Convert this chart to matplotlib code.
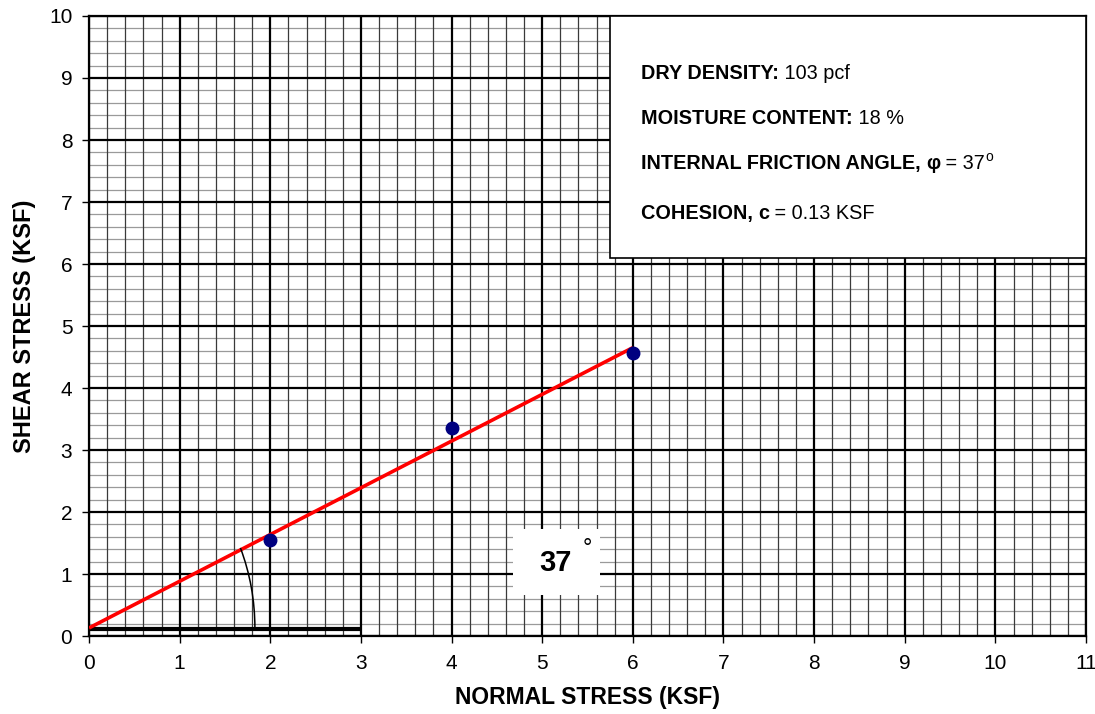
import matplotlib
matplotlib.use("Agg")
import matplotlib.pyplot as plt
from matplotlib.patches import Arc, Rectangle
from matplotlib.transforms import offset_copy
import numpy as np

plt.rcParams['font.family'] = ['Liberation Sans', 'DejaVu Sans']

# Data
normal_stress = [2, 4, 6]
shear_stress = [1.55, 3.35, 4.57]
cohesion = 0.13
friction_angle = 37
fit_x = [0, 6]
x_ticks = list(range(0, 12))
y_ticks = list(range(0, 11))

fig = plt.figure(figsize=(10.95, 7.14), dpi=100)
ax = fig.add_axes([0.0813, 0.1092, 0.9105, 0.8684])
ax.set_xlim(0, 11)
ax.set_ylim(0, 10)

# Grid
for xv in np.arange(0, 11.001, 0.2):
    if abs(xv - round(xv)) < 1e-6:
        ax.axvline(xv, color='black', lw=1.6, zorder=1)
    else:
        ax.axvline(xv, color='#3a3a3a', lw=0.9, zorder=0.9)
for yv in np.arange(0, 10.001, 0.2):
    if abs(yv - round(yv)) < 1e-6:
        ax.axhline(yv, color='black', lw=1.6, zorder=1)
    else:
        ax.axhline(yv, color='#9a9a9a', lw=0.9, zorder=0.8)

# Fit line
slope = np.tan(np.radians(friction_angle))
fy = [cohesion + slope * x for x in fit_x]
ax.plot(fit_x, fy, color='#ff0000', lw=2.6, zorder=4, solid_capstyle='butt')

# Horizontal reference
ax.plot([0, 3], [0.12, 0.12], color='black', lw=3, zorder=3, solid_capstyle='butt')

# Angle arc
arc = Arc((0, cohesion), 2 * 1.83, 2 * 3.16, theta1=0, theta2=37.7, color='black', lw=1.1, zorder=4)
ax.add_patch(arc)

# Points
ax.plot(normal_stress, shear_stress, 'o', color='#000080', ms=9, zorder=5, clip_on=False)

# Ticks
ax.set_xticks(x_ticks)
ax.set_yticks(y_ticks)
ax.tick_params(axis='both', direction='out', length=5, width=1, labelsize=15)
ax.tick_params(axis='x', pad=8)
ax.tick_params(axis='y', pad=7)
for s in ax.spines.values():
    s.set_linewidth(1.6)

ax.set_xlabel('NORMAL STRESS (KSF)', fontsize=16.5, fontweight='bold', labelpad=9)
ax.set_ylabel('SHEAR STRESS (KSF)', fontsize=17, fontweight='bold', labelpad=9)

# Info box
box = Rectangle((0.5226, 0.61), 0.9995 - 0.5226, 0.39, transform=ax.transAxes,
                facecolor='white', edgecolor='black', lw=1.2, zorder=6)
ax.add_patch(box)

fs = 14.3
renderer = fig.canvas.get_renderer()

def place_run(parts, x, y):
    # parts: list of (text, weight, size, dy_points)
    trans = ax.transAxes
    xo = 0.0
    for txt, weight, size, dy in parts:
        t = ax.text(x, y, txt, transform=offset_copy(trans, fig=fig, x=xo, y=dy, units='dots'),
                    fontsize=size, fontweight=weight, va='baseline', ha='left', zorder=7)
        bb = t.get_window_extent(renderer=renderer)
        xo += bb.width

info_lines = [
    [("DRY DENSITY:", 'bold', fs, 0), (" 103 pcf", 'normal', fs, 0)],
    [("MOISTURE CONTENT:", 'bold', fs, 0), (" 18 %", 'normal', fs, 0)],
    [("INTERNAL FRICTION ANGLE, ", 'bold', fs, 0), ("\u03c6", 'bold', fs, 0),
     (" = 37", 'normal', fs, 0), ("o", 'normal', 10, 8)],
    [("COHESION, ", 'bold', fs, 0), ("c", 'bold', fs, 0), (" = 0.13 KSF", 'normal', fs, 0)],
]
ys = [0.898, 0.826, 0.754, 0.673]
for parts, yy in zip(info_lines, ys):
    place_run(parts, 0.5536, yy)

# Angle label
ax.add_patch(Rectangle((4.68, 0.66), 0.96, 1.07, facecolor='white', edgecolor='none', zorder=6))
ax.text(5.15, 1.18, '37', fontsize=21, fontweight='bold', ha='center', va='center', zorder=7)
ax.text(5.50, 1.40, '\u00b0', fontsize=17, ha='center', va='center', zorder=8)

fig.savefig('out.png', dpi=100)
